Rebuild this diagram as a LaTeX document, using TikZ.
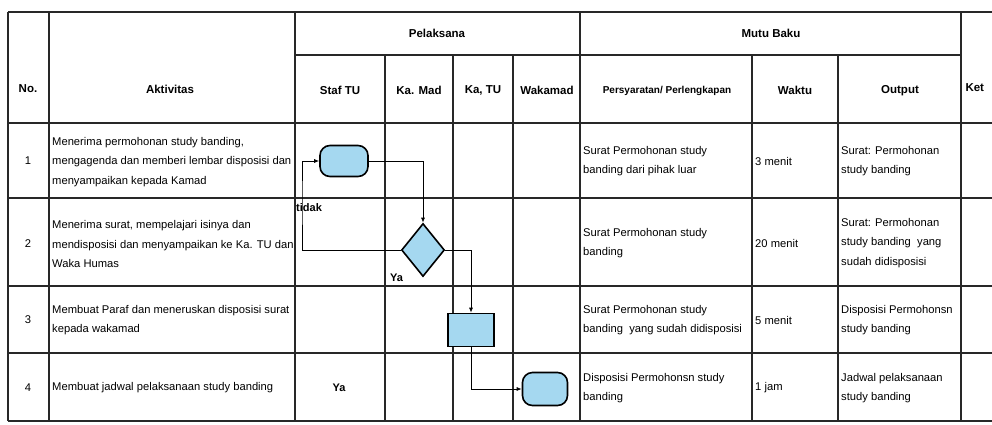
\documentclass[tikz,border=0pt]{standalone}
\usepackage{fontspec}
\setmainfont{Liberation Sans}
\usetikzlibrary{shapes.geometric,arrows.meta}
\definecolor{flowblue}{RGB}{165,216,240}
\definecolor{gridgray}{RGB}{40,40,40}

\begin{document}
\begin{tikzpicture}[x=1pt,y=-1pt,
    grid/.style={line width=1.1pt,draw=gridgray},
    hd/.style={font=\bfseries\fontsize{11.5}{13}\selectfont},
    txt/.style={anchor=west,align=left,inner sep=0pt,font=\fontsize{11.2}{19.5}\selectfont},
    lbl/.style={anchor=west,inner sep=0pt,font=\bfseries\fontsize{11}{13}\selectfont},
    term/.style={draw,line width=1.6pt,fill=flowblue,rounded corners=10pt,minimum width=48pt,minimum height=31pt},
    proc/.style={draw,line width=1.6pt,fill=flowblue,minimum width=46pt,minimum height=33pt},
    decision/.style={draw,diamond,line width=1.6pt,fill=flowblue,inner sep=0pt,minimum width=43pt,minimum height=53pt},
    flow/.style={line width=0.8pt,-{Latex[length=5pt,width=4pt]}}]
  \useasboundingbox (0,0) rectangle (992,424);

  % table
  \foreach \y in {12,123,198,286,353,421} \draw[grid] (8,\y) -- (992,\y);
  \draw[grid] (295,55) -- (961,55);
  \foreach \x in {8,49,295,580,961} \draw[grid] (\x,12) -- (\x,421);
  \foreach \x in {385,453,513,752,838} \draw[grid] (\x,55) -- (\x,421);

  % header
  \node[hd] (hno) at (28,89) {No.};
  \node[hd] (hakt) at (170,89) {Aktivitas};
  \node[hd] (hpel) at (437,33) {Pelaksana};
  \node[hd] (hmutu) at (771,33) {Mutu Baku};
  \node[hd,anchor=west] (hket) at (962,88) {Ket};
  \node[hd] (hstaf) at (340,90) {Staf TU};
  \node[hd] (hkamad) at (419,90) {Ka. Mad};
  \node[hd] (hkatu) at (483,90) {Ka, TU};
  \node[hd] (hwaka) at (547,90) {Wakamad};
  \node[hd,font=\bfseries\fontsize{10}{12}\selectfont] (hsyarat) at (667,91) {Persyaratan/ Perlengkapan};
  \node[hd] (hwaktu) at (795,90) {Waktu};
  \node[hd] (hout) at (900,91) {Output};

  % row 1
  \node[txt,anchor=center] (no1) at (28,161) {1};
  \node[txt] (akt1) at (52,162) {Menerima permohonan study banding,\\mengagenda dan memberi lembar disposisi dan\\menyampaikan kepada Kamad};
  \node[txt] (syr1) at (583,161) {Surat Permohonan study\\banding dari pihak luar};
  \node[txt] (wkt1) at (755,161) {3 menit};
  \node[txt] (out1) at (841,161) {Surat: Permohonan\\study banding};

  % row 2
  \node[txt,anchor=center] (no2) at (28,244) {2};
  \node[txt] (akt2) at (52,244) {Menerima surat, mempelajari isinya dan\\mendisposisi dan menyampaikan ke Ka. TU dan\\Waka Humas};
  \node[txt] (syr2) at (583,243) {Surat Permohonan study\\banding};
  \node[txt] (wkt2) at (755,243) {20 menit};
  \node[txt] (out2) at (841,243) {Surat: Permohonan\\study banding~ yang\\sudah didisposisi};

  % row 3
  \node[txt,anchor=center] (no3) at (28,320) {3};
  \node[txt] (akt3) at (52,320) {Membuat Paraf dan meneruskan disposisi surat\\kepada wakamad};
  \node[txt] (syr3) at (583,320) {Surat Permohonan study\\banding~ yang sudah didisposisi};
  \node[txt] (wkt3) at (755,320) {5 menit};
  \node[txt] (out3) at (841,320) {Disposisi Permohonsn\\study banding};

  % row 4
  \node[txt,anchor=center] (no4) at (28,388) {4};
  \node[txt] (akt4) at (52,388) {Membuat jadwal pelaksanaan study banding};
  \node[lbl,anchor=center] (ya4) at (339,388) {Ya};
  \node[txt] (syr4) at (583,388) {Disposisi Permohonsn study\\banding};
  \node[txt] (wkt4) at (755,388) {1 jam};
  \node[txt] (out4) at (841,388) {Jadwal pelaksanaan\\study banding};

  % flow
  \node[term] (terima) at (344,161) {};
  \node[decision] (putus) at (423,250) {};
  \node[proc] (paraf) at (471,330) {};
  \node[term,minimum width=45pt,minimum height=33pt] (jadwal) at (545,389) {};
  \coordinate (balik) at (302,200);

  \draw[flow] (terima.east) -| (putus.north);
  \draw[flow] (putus.west) -| (balik) |- (terima.west);
  \draw[flow] (putus.east) -| (paraf.north);
  \draw[flow] (paraf.south) |- (jadwal.west);

  \node[lbl] (tidak) at (296,208) {tidak};
  \node[lbl] (ya) at (390,278) {Ya};
\end{tikzpicture}
\end{document}
